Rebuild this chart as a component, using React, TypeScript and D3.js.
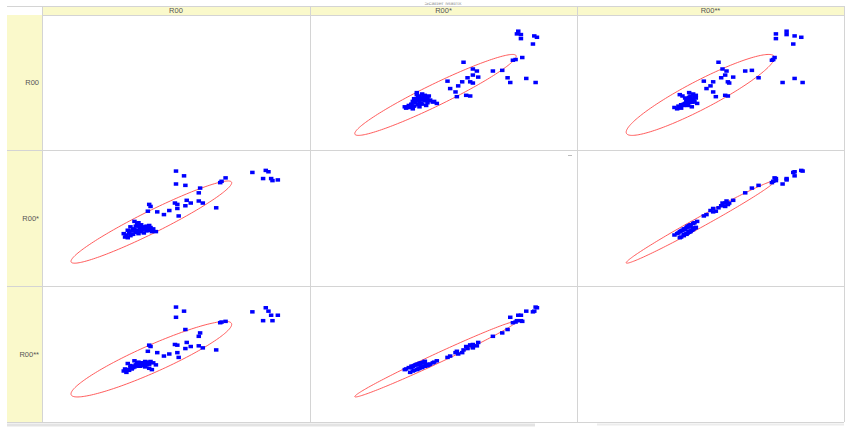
import React from 'react';
import * as d3 from 'd3';

// variable names, shown as column and row headers
const variables = ['R00', 'R00*', 'R00**'];

// one entry per case, same index in every array (values in axis percent)
const r00 = [
  88, 85.5, 82.5, 84.5, 83.5, 78.5, 86, 67, 68.5, 66.5, 65, 58.5, 59, 53.5, 50, 53, 50,
  58.5, 55.5, 53.5, 54, 50.5, 49.6, 60, 51, 50.5, 47.5, 45.5, 43, 39.5, 40.5, 40,
  31, 31.5, 32, 32.5, 33, 33.5, 34, 34, 34.5, 35, 35, 35.5, 36, 36, 36.5, 37, 37, 37.5,
  38, 38, 38.5, 39, 39, 39.5, 40, 40.5, 41, 41.5, 42.5, 30.5, 32, 33, 35.5,
  33.5, 36.5, 38.5, 34.5, 37, 40,
];
const r00s = [
  78, 79, 79, 84, 85, 83.5, 77.5, 77, 79.5, 76, 57.5, 68.5, 72, 74, 75, 81, 84.5,
  62.5, 61, 59, 63, 60, 61, 61, 51.5, 57, 55.5, 52.5, 54.5, 55, 58.5, 60,
  36, 37.5, 35.5, 39, 37, 40.5, 38, 42, 47.5, 39.5, 44, 41, 46.5, 38.5, 43, 40, 45, 41.5,
  43.5, 39, 42, 40.5, 44, 42.5, 41, 43, 40, 42, 40, 38.5, 41, 43.5, 46,
  38, 44.5, 43, 41.5, 42.5, 44.5,
];
const r00ss = [
  78.5, 78.5, 74.5, 81.5, 84, 81, 74.5, 73.5, 74, 73, 53, 63, 65.5, 68, 77, 81.5, 84.5,
  56, 55.5, 54, 58.5, 56.5, 57, 54.5, 47.5, 51, 50, 48.5, 51, 52, 55.5, 56.5,
  39, 36.5, 38.5, 38, 40, 39, 41, 40, 45, 42, 41.5, 43, 44, 41, 41, 42.5, 42.5, 43.5,
  41.5, 41.5, 40.5, 42.5, 42, 44, 39.5, 44.5, 38.5, 43.5, 42, 37.5, 43, 41.5, 43.5,
  40, 42, 44.5, 40.5, 43.5, 42.5,
];
const series = [r00, r00s, r00ss];

// summary statistics behind the 95% ellipses
const means = [40.8, 47.0, 46.2];
const sds = [12.25, 12.35, 11.35];
const corr = [
  [1, 0.955, 0.92],
  [0.955, 1, 0.99],
  [0.92, 0.99, 1],
];
const domain = [0, 100];

const W = 852, H = 429;
const colEdges = [42, 310, 577, 844];
const rowEdges = [15, 150, 286, 422];
const yellow = '#faf9cb';
const grid = '#d4d4d4';
const font = '"Liberation Sans", Arial, sans-serif';
const chi = Math.sqrt(5.991); // 95%, 2 dof

export default function App() {
  const xs = variables.map((_, j) =>
    d3.scaleLinear().domain(domain).range([colEdges[j], colEdges[j + 1]]));
  const ys = variables.map((_, i) =>
    d3.scaleLinear().domain(domain).range([rowEdges[i + 1], rowEdges[i]]));

  const angles = d3.range(0, Math.PI * 2 + 0.01, Math.PI / 90);

  const panels = [];
  variables.forEach((_, i) => {
    variables.forEach((_, j) => {
      if (i === j) return;
      const x = xs[j], y = ys[i];
      const r = corr[i][j];
      const line = d3.line<number>()
        .x(t => x(means[j] + chi * sds[j] * Math.cos(t)))
        .y(t => y(means[i] + chi * sds[i] * (r * Math.cos(t) + Math.sqrt(1 - r * r) * Math.sin(t))));
      panels.push(
        <g key={i + '-' + j}>
          <path d={line(angles)} fill="none" stroke="#ff4a4a" strokeWidth={0.9} />
          {series[j].map((v, k) => (
            <rect key={k} x={x(v) - 2.25} y={y(series[i][k]) - 1.75} width={4.5} height={3.5} fill="#0000ff" />
          ))}
        </g>
      );
    });
  });

  return (
    <svg width={W} height={H} style={{ position: 'absolute', left: 0, top: 0, background: '#fff' }} fontFamily={font}>
      <defs>
        <clipPath id="titleClip"><rect x={0} y={2.5} width={W} height={4} /></clipPath>
      </defs>
      {/* header band and row label band */}
      <rect x={colEdges[0]} y={6} width={colEdges[3] - colEdges[0]} height={rowEdges[0] - 6} fill={yellow} />
      <rect x={7} y={rowEdges[0]} width={colEdges[0] - 7} height={rowEdges[3] - rowEdges[0]} fill={yellow} />
      <text x={443} y={5} fontSize={6} fill="#9a9a9a" textAnchor="middle" clipPath="url(#titleClip)">Scatter Matrix</text>
      <line x1={7} x2={colEdges[3]} y1={6.5} y2={6.5} stroke={grid} />

      {/* grid */}
      {colEdges.map((c, k) => (
        <line key={'c' + k} x1={c + 0.5} x2={c + 0.5} y1={6} y2={rowEdges[3]} stroke={grid} />
      ))}
      {rowEdges.map((r, k) => (
        <line key={'r' + k} x1={k === 0 ? colEdges[0] : 7} x2={colEdges[3]} y1={r + 0.5} y2={r + 0.5} stroke={grid} />
      ))}
      <rect x={7} y={423.5} width={528} height={3} fill="#e3e3e3" />
      <rect x={597} y={423.5} width={247} height={2} fill="#ececec" />
      <line x1={568} x2={572} y1={155.5} y2={155.5} stroke="#bbb" />

      {variables.map((v, j) => (
        <text key={'h' + j} x={(colEdges[j] + colEdges[j + 1]) / 2} y={13} fontSize={7.5} fill="#555" textAnchor="middle">{v}</text>
      ))}
      {variables.map((v, i) => (
        <text key={'l' + i} x={39} y={(rowEdges[i] + rowEdges[i + 1]) / 2 + 2.5} fontSize={7.5} fill="#555" textAnchor="end">{v}</text>
      ))}

      {panels}
    </svg>
  );
}
